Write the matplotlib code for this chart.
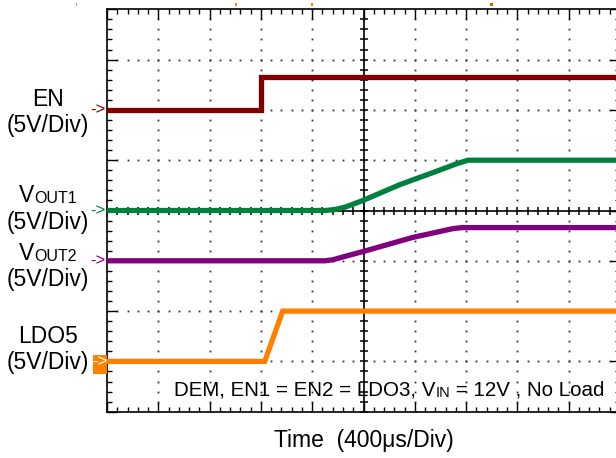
import matplotlib
matplotlib.use("Agg")
import matplotlib.pyplot as plt
import numpy as np
from matplotlib.patches import Rectangle

plt.rcParams['font.family'] = ['Liberation Sans', 'DejaVu Sans']

# ---------------- data (time in us, voltage in V) ----------------
time_per_div = 400.0   # us / div
volts_per_div = 5.0    # V / div

en_t = [0, 1200, 1200, 4000]
en_v = [0.0, 0.0, 3.3, 3.3]

vout1_t = [0, 1700, 1780, 1860, 1996, 2285, 2542, 2729, 2815, 4000]
vout1_v = [0.0, 0.0, 0.1, 0.35, 1.0, 2.58, 3.77, 4.66, 5.0, 5.0]

vout2_t = [0, 1700, 1760, 1830, 1996, 2386, 2698, 2768, 4000]
vout2_v = [0.0, 0.0, 0.1, 0.35, 0.92, 2.33, 3.2, 3.3, 3.3]

ldo5_t = [0, 1230, 1370, 4000]
ldo5_v = [0.0, 0.0, 5.0, 5.0]

channel_names = ["EN", "VOUT1", "VOUT2", "LDO5"]
channel_offsets = [2.0, 0.0, -1.0, -3.0]   # baseline position (div)
channel_colors = ["#800000", "#008040", "#800080", "#ff8000"]

W, H = 616, 458
fig = plt.figure(figsize=(W / 100, H / 100), dpi=100)
ax = fig.add_axes([107 / W, 46.3 / H, 513 / W, 402.4 / H])
ax.set_xlim(0, 10)
ax.set_ylim(-4, 4)

for s in ax.spines.values():
    s.set_color("black")
    s.set_linewidth(1.2)

ax.set_xticks(np.arange(0, 11, 1))
ax.set_xticks(np.arange(0, 10.01, 0.2), minor=True)
ax.set_yticks(np.arange(-4, 5, 1))
ax.set_yticks(np.arange(-4, 4.01, 0.2), minor=True)
ax.tick_params(which="both", direction="in", top=True, right=True,
               labelbottom=False, labelleft=False, color="black", width=1)
ax.tick_params(which="major", length=7)
ax.tick_params(which="minor", length=3.5)

# dotted graticule
fine_x = np.arange(0, 10.01, 0.2)
fine_y = np.arange(-4, 4.01, 0.2)
for xi in range(1, 10):
    if xi == 5:
        continue
    ax.plot(np.full_like(fine_y, xi), fine_y, ls="", marker="s", ms=1.3,
            mew=0, color="#333333", zorder=1)
for yi in range(-3, 4):
    if yi == 0:
        continue
    ax.plot(fine_x, np.full_like(fine_x, yi), ls="", marker="s", ms=1.3,
            mew=0, color="#333333", zorder=1)

# center axes with cross ticks
ax.axhline(0, color="black", lw=1.2, zorder=2)
ax.axvline(5, color="black", lw=1.2, zorder=2)
ax.plot(fine_x, np.zeros_like(fine_x), ls="", marker="|", ms=6, mew=1.1,
        color="black", zorder=2)
ax.plot(np.full_like(fine_y, 5), fine_y, ls="", marker="_", ms=6, mew=1.1,
        color="black", zorder=2)

# traces
series = [(en_t, en_v), (vout1_t, vout1_v), (vout2_t, vout2_v), (ldo5_t, ldo5_v)]
for (t, v), off, c in zip(series, channel_offsets, channel_colors):
    x = np.asarray(t) / time_per_div
    y = np.asarray(v) / volts_per_div + off
    ax.plot(x, y, color=c, lw=3.8, solid_joinstyle="miter", zorder=4)


def px(x, y):
    return x / W, 1 - y / H


LS = 16.5
# left labels
fig.text(*px(48, 106), "EN", ha="center", va="baseline", fontsize=LS)
fig.text(*px(48, 132), "(5V/Div)", ha="center", va="baseline", fontsize=LS)

fig.text(*px(34, 202), "V", ha="right", va="baseline", fontsize=LS)
fig.text(*px(34, 203), "OUT1", ha="left", va="baseline", fontsize=11.5)
fig.text(*px(48, 229), "(5V/Div)", ha="center", va="baseline", fontsize=LS)

fig.text(*px(34, 260), "V", ha="right", va="baseline", fontsize=LS)
fig.text(*px(34, 261), "OUT2", ha="left", va="baseline", fontsize=11.5)
fig.text(*px(48, 286), "(5V/Div)", ha="center", va="baseline", fontsize=LS)

fig.text(*px(48, 343), "LDO5", ha="center", va="baseline", fontsize=LS)
fig.text(*px(48, 369), "(5V/Div)", ha="center", va="baseline", fontsize=LS)

# channel markers
ytrans = ax.get_yaxis_transform()
for off, c, name in zip(channel_offsets, channel_colors, channel_names):
    if name == "LDO5":
        ax.add_patch(Rectangle(px(92.5, 374), 14 / W, 19 / H,
                               transform=fig.transFigure, facecolor=c,
                               edgecolor="none", clip_on=False, zorder=6))
        ax.text(-0.014, off, "->", transform=ytrans, ha="center",
                va="center", fontsize=12, color="white", clip_on=False,
                zorder=7)
    else:
        ax.text(-0.017, off, "->", transform=ytrans, ha="center",
                va="center", fontsize=12, color=c, clip_on=False, zorder=7)

# tiny trigger marks along the top edge
for (mx, mc, mw) in [(76, "#999999", 1), (235, "#ff8000", 2),
                     (311, "#ff8000", 1.5), (490, "#cc6600", 2.5)]:
    fig.patches.append(Rectangle(px(mx, 6), mw / W, 3 / H,
                                 transform=fig.transFigure, facecolor=mc,
                                 edgecolor="none"))

# condition text (pieces chained for the subscript)
fig.canvas.draw()
r = fig.canvas.get_renderer()
CS = 14.8
t1 = fig.text(*px(174, 395), "DEM, EN1 = EN2 = LDO3, V", ha="left",
              va="baseline", fontsize=CS)
bb = t1.get_window_extent(r)
t2 = fig.text(bb.x1 / W, (H - 397) / H, "IN", ha="left", va="baseline",
              fontsize=10.5)
bb2 = t2.get_window_extent(r)
fig.text(bb2.x1 / W, (H - 395) / H, " = 12V , No Load", ha="left",
         va="baseline", fontsize=CS)

fig.text(*px(364, 447), "Time  (400\u03bcs/Div)", ha="center", va="baseline",
         fontsize=LS)

fig.savefig("out.png", dpi=100)
